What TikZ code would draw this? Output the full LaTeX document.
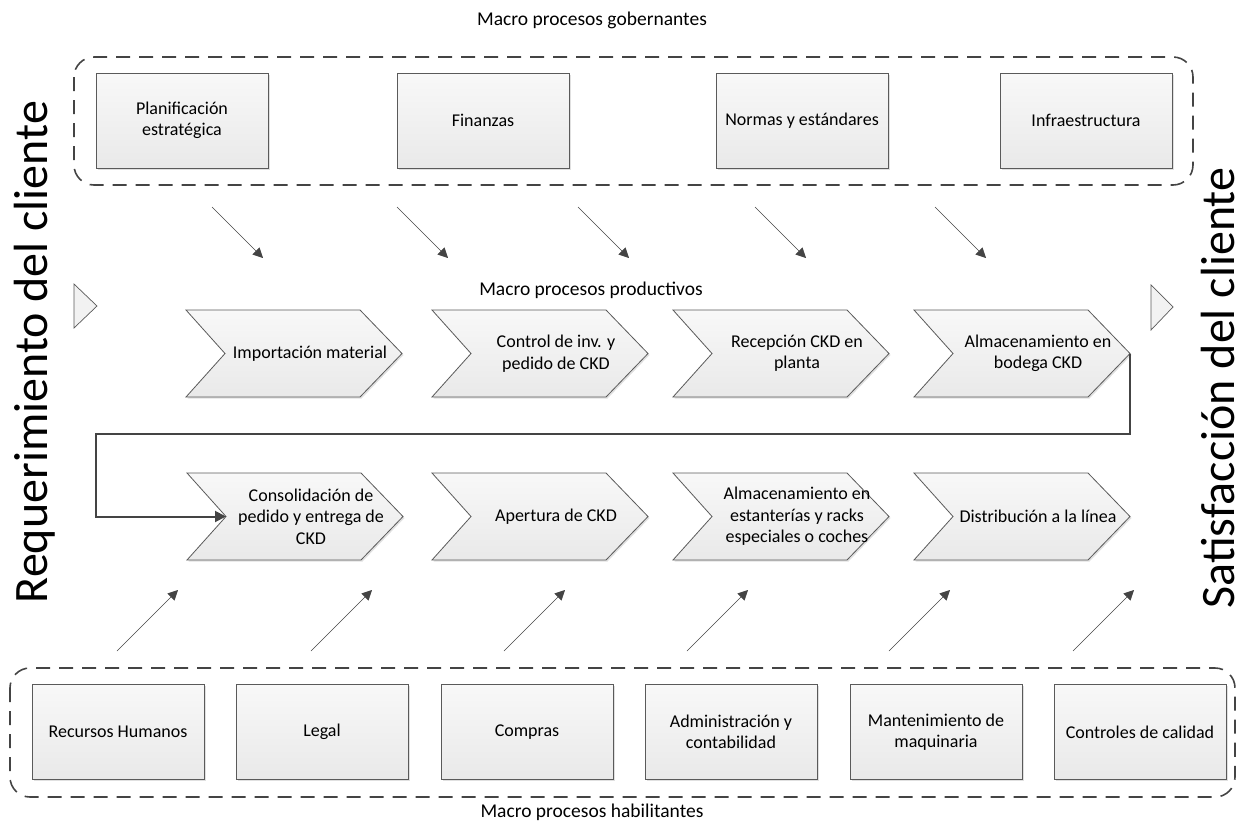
\documentclass[tikz,border=0pt]{standalone}
\usepackage{fontspec}
\setmainfont{Carlito}
\usetikzlibrary{arrows.meta,shadows}
\definecolor{edge}{HTML}{5A5A5A}
\definecolor{frame}{HTML}{444444}
\definecolor{fillT}{HTML}{F8F8F8}
\definecolor{fillB}{HTML}{E9E9E9}

% a process chevron: name, left x, top y, text
\newcommand\chevron[4]{%
  \path[draw=edge, line width=0.8pt, top color=fillT, bottom color=fillB,
        drop shadow={shadow xshift=1.5pt, shadow yshift=-1.5pt, fill=black, opacity=0.12}]
    (#2,#3) -- ++(174,0) -- ++(42,43.5) -- ++(-42,43.5) -- ++(-174,0)
    -- ++(39,-43.5) -- cycle;
  \coordinate (#1-tip) at (#2+216,#3+43.5);
  \coordinate (#1-notch) at (#2+39,#3+43.5);
  \node[align=center] (#1) at (#2+124,#3+43.5) {#4};
}

\begin{document}
\begin{tikzpicture}[x=1pt,y=-1pt,
  every node/.style={font=\fontsize{18}{21.5}\selectfont, inner sep=0pt},
  procbox/.style={draw=edge, line width=0.8pt, top color=fillT, bottom color=fillB,
    minimum width=172pt, minimum height=95pt, align=center,
    drop shadow={shadow xshift=1.5pt, shadow yshift=-1.5pt, fill=black, opacity=0.12}},
  group/.style={draw=frame, line width=1.6pt, dash pattern=on 14pt off 9pt, rounded corners=20pt},
  grouplabel/.style={font=\fontsize{19.5}{23}\selectfont},
  feed/.style={draw=frame, line width=0.6pt, -{Triangle[length=10pt,width=10pt]}},
  flow/.style={draw=frame, line width=2pt, -{Triangle[length=11pt,width=11pt]}},
  marker/.style={draw=edge, line width=0.7pt, fill=fillB!60},
  bigtext/.style={font=\fontsize{48}{56}\selectfont, rotate=90},
]
\useasboundingbox (0,0) rectangle (1243,828);

% governing processes
\node[grouplabel] (lblgov) at (592,20) {Macro procesos gobernantes};
\draw[group] (74,57) rectangle (1193,185);
\node[procbox] (plan) at (182,120.5) {Planificación\\estratégica};
\node[procbox] (fin)  at (483,120.5) {Finanzas};
\node[procbox] (norm) at (802,120.5) {Normas y estándares};
\node[procbox] (infra) at (1086,120.5) {Infraestructura};

% influence arrows from the governing group
\foreach \i/\x in {1/212,2/397,3/578,4/755,5/935}{
  \coordinate (gs\i) at (\x,207);
  \coordinate (ge\i) at (\x+51,258);
  \draw[feed] (gs\i) -- (ge\i);
}

% productive processes
\node[grouplabel] (lblprod) at (591,290) {Macro procesos productivos};
\chevron{c1}{186}{310}{Importación material}
\chevron{c2}{432}{310}{Control de inv. y\\pedido de CKD}
\chevron{c3}{673}{310}{Recepción CKD en\\planta}
\chevron{c4}{914}{310}{Almacenamiento en\\bodega CKD}
\chevron{c5}{187}{473}{Consolidación de\\pedido y entrega de\\CKD}
\chevron{c6}{432}{473}{Apertura de CKD}
\chevron{c7}{673}{473}{Almacenamiento en\\estanterías y racks\\especiales o coches}
\chevron{c8}{914}{473}{Distribución a la línea}

% wrap-around from the first row to the second
\coordinate (bend) at (96,434);
\draw[flow] (c4-tip) |- (bend) |- (c5-notch);

% enabling processes
\draw[group] (10,668) rectangle (1235,797);
\node[procbox] (rh)    at (118,732) {Recursos Humanos};
\node[procbox] (legal) at (322,732) {Legal};
\node[procbox] (comp)  at (527,732) {Compras};
\node[procbox] (admin) at (731,732) {Administración y\\contabilidad};
\node[procbox] (mant)  at (936,732) {Mantenimiento de\\maquinaria};
\node[procbox] (qual)  at (1140,732) {Controles de calidad};
\node[grouplabel] (lblhab) at (592,812) {Macro procesos habilitantes};

% support arrows from the enabling group
\foreach \i/\x in {1/178,2/372,3/565,4/748,5/950,6/1134}{
  \coordinate (hs\i) at (\x-61,651);
  \coordinate (he\i) at (\x,590);
  \draw[feed] (hs\i) -- (he\i);
}

% customer input and output
\draw[marker] (74,284) -- (97,306) -- (74,328) -- cycle;
\draw[marker] (1151,285) -- (1173,307) -- (1151,330) -- cycle;
\node[bigtext] (req) at (35,352) {Requerimiento del cliente};
\node[bigtext] (sat) at (1218,388) {Satisfacción del cliente};
\end{tikzpicture}
\end{document}
